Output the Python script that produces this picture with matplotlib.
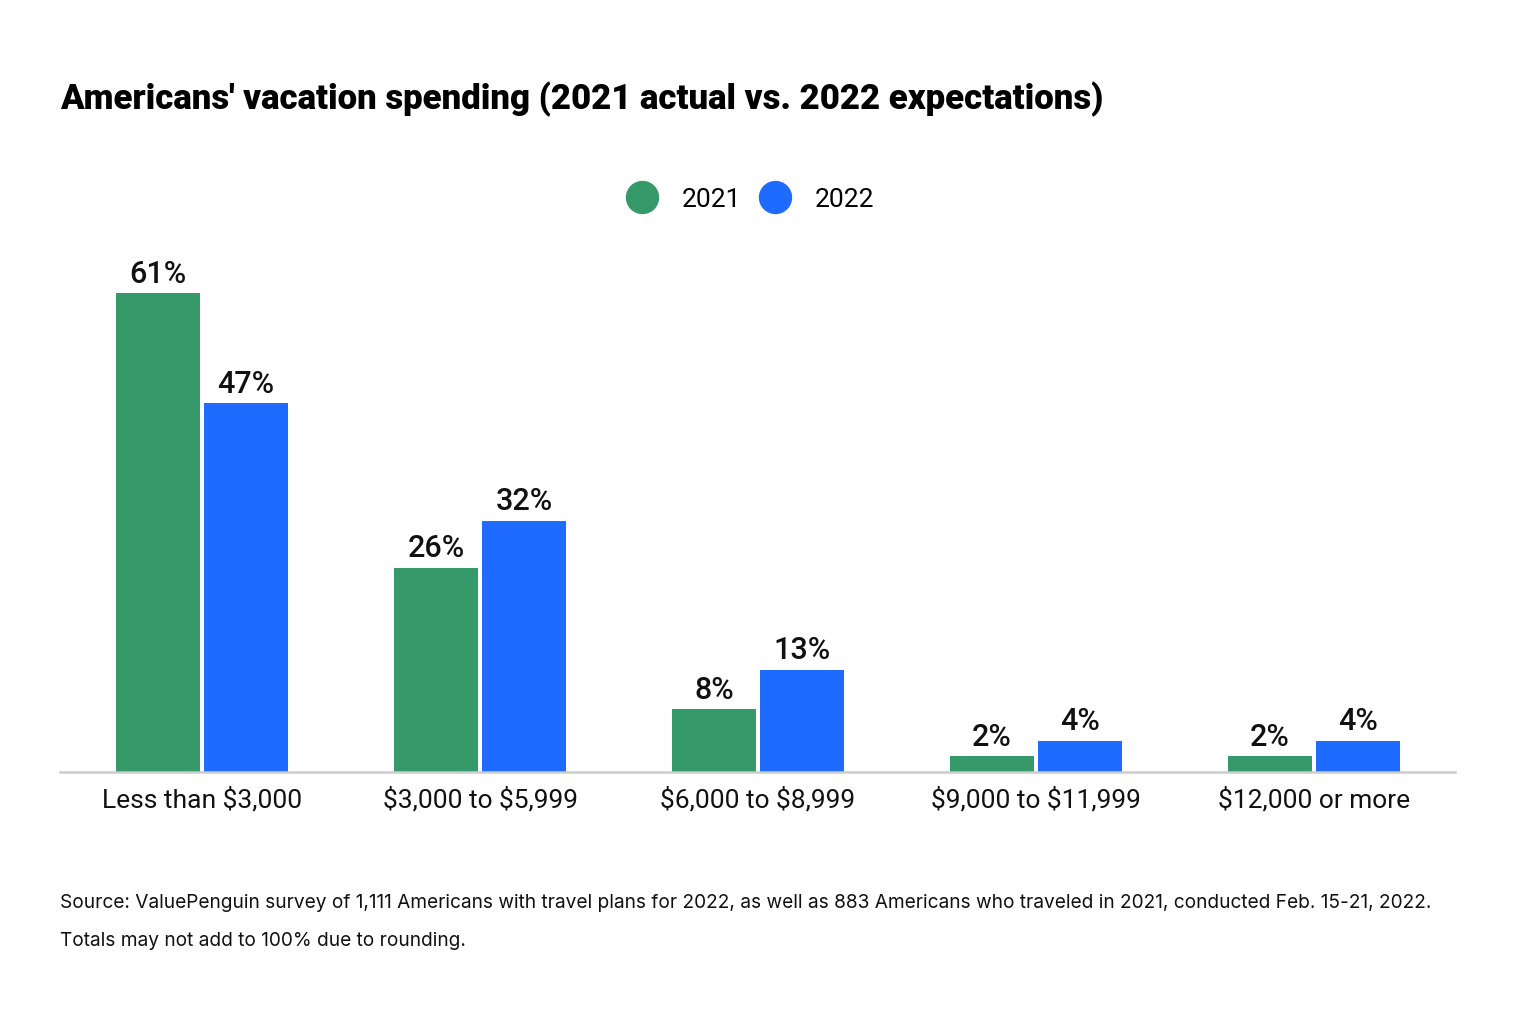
import numpy as np
import matplotlib.pyplot as plt
from matplotlib.lines import Line2D

categories = ['Less than \\$3,000', '\\$3,000 to \\$5,999', '\\$6,000 to \\$8,999',
              '\\$9,000 to \\$11,999', '\\$12,000 or more']
values_2021 = [61, 26, 8, 2, 2]
values_2022 = [47, 32, 13, 4, 4]
series_names = ['2021', '2022']

GREEN = '#35996A'
BLUE = '#1F6BFF'

plt.rcParams['font.family'] = ['Roboto', 'DejaVu Sans']

fig = plt.figure(figsize=(15.2, 10.2), dpi=100)
ax = fig.add_axes([60 / 1520, 247 / 1020, 1395 / 1520, 522 / 1020])

x = np.arange(len(categories))
w = 84 / 278
off = 44 / 278
b1 = ax.bar(x - off, values_2021, width=w, color=GREEN)
b2 = ax.bar(x + off, values_2022, width=w, color=BLUE)

for bars, vals in [(b1, values_2021), (b2, values_2022)]:
    for rect, v in zip(bars, vals):
        ax.annotate(f'{v}%', (rect.get_x() + rect.get_width() / 2, rect.get_height()),
                    xytext=(0, 4), textcoords='offset points',
                    ha='center', va='bottom', fontsize=22, fontweight='medium',
                    color='#111111')

ax.set_xlim(-0.511, 4.507)
ax.set_ylim(0, 66.5)
ax.set_xticks(x)
ax.set_xticklabels(categories, fontsize=19, color='#111111')
ax.tick_params(axis='x', length=0, pad=10)
ax.set_yticks([])
for s in ['top', 'right', 'left']:
    ax.spines[s].set_visible(False)
ax.spines['bottom'].set_color('#cccccc')
ax.spines['bottom'].set_linewidth(1.8)

# title
fig.text(60 / 1520, 1 - 99 / 1020, "Americans' vacation spending (2021 actual vs. 2022 expectations)",
         fontsize=25, fontweight='black', ha='left', va='center', color='#000000')

# legend
handles = [Line2D([], [], marker='o', linestyle='', markersize=23, color=c) for c in [GREEN, BLUE]]
fig.legend(handles, series_names, loc='center', bbox_to_anchor=(750 / 1520, 1 - 200 / 1020),
           ncol=2, frameon=False, fontsize=19, handletextpad=0.9, columnspacing=0.7,
           handlelength=1.2)

# footer
fig.text(60 / 1520, 1 - 903 / 1020,
         'Source: ValuePenguin survey of 1,111 Americans with travel plans for 2022, as well as 883 '
         'Americans who traveled in 2021, conducted Feb. 15-21, 2022.',
         fontsize=13.75, ha='left', va='center', color='#111111', family=['Inter', 'DejaVu Sans'])
fig.text(60 / 1520, 1 - 941 / 1020, 'Totals may not add to 100% due to rounding.',
         fontsize=13.75, ha='left', va='center', color='#111111', family=['Inter', 'DejaVu Sans'])

fig.savefig('out.png', dpi=100, facecolor='white')
